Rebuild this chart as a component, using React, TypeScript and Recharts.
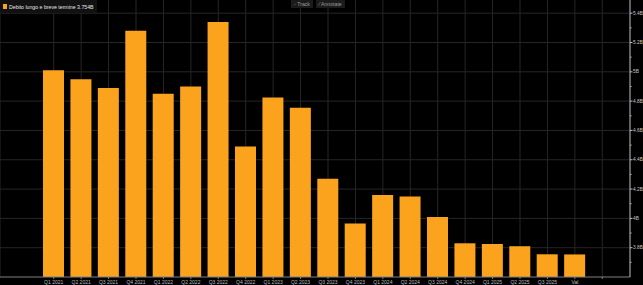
import React from 'react';
import { BarChart, Bar, XAxis, YAxis, CartesianGrid } from 'recharts';

// Quarterly long- and short-term debt, in billions
const quarters = [
  'Q1 2021', 'Q2 2021', 'Q3 2021', 'Q4 2021',
  'Q1 2022', 'Q2 2022', 'Q3 2022', 'Q4 2022',
  'Q1 2023', 'Q2 2023', 'Q3 2023', 'Q4 2023',
  'Q1 2024', 'Q2 2024', 'Q3 2024', 'Q4 2024',
  'Q1 2025', 'Q2 2025', 'Q3 2025', 'Val', '',
];
const debt: (number | null)[] = [
  5.01, 4.95, 4.89, 5.28,
  4.85, 4.9, 5.34, 4.49,
  4.825, 4.755, 4.27, 3.965,
  4.16, 4.15, 4.01, 3.83,
  3.825, 3.81, 3.755, 3.754, null,
];
const majorTicks = [3.8, 4.0, 4.2, 4.4, 4.6, 4.8, 5.0, 5.2, 5.4];
const minorTicks = [3.7, 3.9, 4.1, 4.3, 4.5, 4.7, 4.9, 5.1, 5.3];
const seriesName = 'Debito lungo e breve termine';
const lastValueLabel = '3.754B';

const data = quarters.map((q, i) => ({ q, v: debt[i] }));
const allTicks = [...minorTicks, ...majorTicks].sort((a, b) => a - b);
const isMajor = (v: number) => majorTicks.some((m) => Math.abs(m - v) < 1e-6);
const fmt = (v: number) => `${parseFloat(v.toFixed(1))}B`;

const FONT = '"Liberation Sans", Arial, sans-serif';
const ORANGE = '#fba31c';

const YTick = (props: any) => {
  const { x, y, payload } = props;
  const major = isMajor(payload.value);
  return (
    <g>
      <line x1={x} x2={x + (major ? 2.5 : 1.5)} y1={y} y2={y} stroke="#bbbbbb" strokeWidth={1} />
      {major && (
        <text x={x + 3} y={y} dy="0.35em" fontSize={4.8} fill="#c8c8c8" fontFamily={FONT}>
          {fmt(payload.value)}
        </text>
      )}
    </g>
  );
};

export default function App() {
  return (
    <div style={{ position: 'fixed', left: 0, top: 0, width: 643, height: 285, background: '#000', overflow: 'hidden' }}>
      <BarChart width={643} height={285} data={data} margin={{ top: 0, right: 0, left: 0, bottom: 0 }}>
        <CartesianGrid stroke="#262626" horizontalValues={majorTicks} />
        <XAxis
          dataKey="q"
          height={8}
          interval={0}
          padding={{ left: 40, right: 14 }}
          tickSize={2}
          tickMargin={1}
          axisLine={{ stroke: '#808080' }}
          tickLine={{ stroke: '#808080' }}
          tick={{ fontSize: 5, fill: '#bdbdbd', fontFamily: FONT }}
        />
        <YAxis
          orientation="right"
          width={13}
          domain={[3.6, 5.49]}
          allowDataOverflow
          ticks={allTicks}
          interval={0}
          tickSize={0}
          tickMargin={0}
          tickLine={false}
          axisLine={{ stroke: '#b0b0b0' }}
          tick={<YTick />}
        />
        <Bar dataKey="v" fill={ORANGE} barSize={21} isAnimationActive={false} />
      </BarChart>

      <div
        style={{
          position: 'absolute', left: 0, top: 0, height: 13, width: 97,
          background: '#111', display: 'flex', alignItems: 'center',
          fontFamily: FONT, fontSize: 5.2, color: '#e8e8e8', whiteSpace: 'nowrap',
        }}
      >
        <span style={{ display: 'inline-block', width: 4, height: 5, background: ORANGE, marginLeft: 3, marginRight: 2 }} />
        {seriesName} {lastValueLabel}
      </div>

      <div
        style={{
          position: 'absolute', left: 291, top: 0, height: 8, display: 'flex', gap: 3,
          fontFamily: FONT, fontSize: 5.2, color: '#9a9a9a', whiteSpace: 'nowrap',
        }}
      >
        <span style={{ background: '#1b1b1b', padding: '0 3px', lineHeight: '8px' }}>◦ Track</span>
        <span style={{ background: '#1b1b1b', padding: '0 3px', lineHeight: '8px' }}>⁄ Annotate</span>
      </div>
    </div>
  );
}
